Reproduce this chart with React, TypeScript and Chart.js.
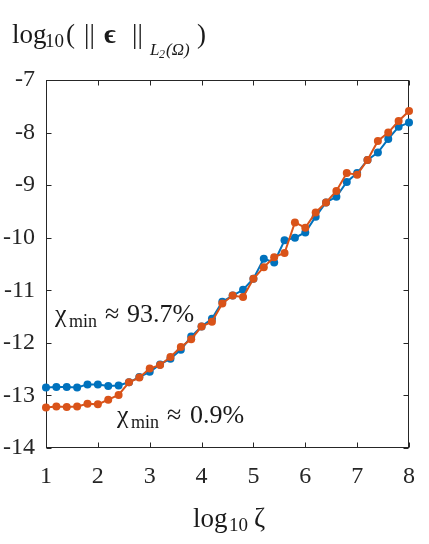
import React, { useEffect, useRef } from "react";
import { Chart, registerables } from "chart.js";

Chart.register(...registerables);

const xValues = [
  1.0, 1.2, 1.4, 1.6, 1.8, 2.0, 2.2, 2.4, 2.6, 2.8, 3.0, 3.2, 3.4, 3.6, 3.8, 4.0, 4.2, 4.4,
  4.6, 4.8, 5.0, 5.2, 5.4, 5.6, 5.8, 6.0, 6.2, 6.4, 6.6, 6.8, 7.0, 7.2, 7.4, 7.6, 7.8, 8.0,
];
const blueSeries = [
  -12.85, -12.84, -12.84, -12.85, -12.79, -12.79, -12.82, -12.81, -12.75, -12.65, -12.55, -12.41,
  -12.3, -12.13, -11.88, -11.69, -11.54, -11.22, -11.1, -10.99, -10.78, -10.4, -10.47, -10.05,
  -10.0, -9.9, -9.6, -9.33, -9.22, -8.94, -8.77, -8.52, -8.38, -8.12, -7.89, -7.81,
];
const orangeSeries = [
  -13.23, -13.21, -13.22, -13.21, -13.16, -13.17, -13.08, -12.99, -12.75, -12.66, -12.49, -12.42,
  -12.27, -12.08, -11.93, -11.69, -11.6, -11.25, -11.1, -11.13, -10.78, -10.56, -10.37, -10.29,
  -9.71, -9.81, -9.52, -9.33, -9.11, -8.77, -8.8, -8.52, -8.16, -8.0, -7.78, -7.59,
];
const xTicks = [1, 2, 3, 4, 5, 6, 7, 8];
const yTicks = [-14, -13, -12, -11, -10, -9, -8, -7];

const BLUE = "#0072BD";
const ORANGE = "#D95319";
const AXIS = "#262626";
const SERIF = "'Liberation Serif', 'DejaVu Serif', serif";

type Run = { t: string; x: number; y: number; size: number; style?: string };

function drawRuns(ctx: CanvasRenderingContext2D, runs: Run[]) {
  ctx.save();
  ctx.fillStyle = "#1a1a1a";
  ctx.textBaseline = "alphabetic";
  ctx.textAlign = "left";
  for (const r of runs) {
    ctx.font = `${r.style ? r.style + " " : ""}${r.size}px ${SERIF}`;
    ctx.fillText(r.t, r.x, r.y);
  }
  ctx.restore();
}

const framePlugin = {
  id: "frame",
  beforeDatasetsDraw(chart: any) {
    const { ctx, chartArea } = chart;
    const xs = chart.scales.x;
    const ys = chart.scales.y;
    const l = Math.round(chartArea.left) + 0.5;
    const r = Math.round(chartArea.right) - 0.5;
    const t = Math.round(chartArea.top) + 0.5;
    const b = Math.round(chartArea.bottom) - 0.5;
    ctx.save();
    ctx.strokeStyle = AXIS;
    ctx.lineWidth = 1;
    ctx.strokeRect(l, t, r - l, b - t);
    const len = 5;
    ctx.beginPath();
    for (const v of xTicks) {
      const p = Math.round(xs.getPixelForValue(v)) + 0.5;
      ctx.moveTo(p, b);
      ctx.lineTo(p, b - len);
      ctx.moveTo(p, t);
      ctx.lineTo(p, t + len);
    }
    for (const v of yTicks) {
      const p = Math.round(ys.getPixelForValue(v)) + 0.5;
      ctx.moveTo(l, p);
      ctx.lineTo(l + len, p);
      ctx.moveTo(r, p);
      ctx.lineTo(r - len, p);
    }
    ctx.stroke();
    ctx.restore();
  },
  afterDraw(chart: any) {
    const { ctx } = chart;
    // y-axis title
    drawRuns(ctx, [
      { t: "log", x: 12, y: 43, size: 27 },
      { t: "10", x: 45, y: 47, size: 19 },
      { t: "(", x: 66, y: 43, size: 27 },
      { t: "||", x: 84, y: 43, size: 27 },
      { t: "\u03F5", x: 104, y: 43, size: 28, style: "bold" },
      { t: "||", x: 132, y: 43, size: 27 },
      { t: "L", x: 150, y: 55, size: 17, style: "italic" },
      { t: "2", x: 159, y: 58, size: 12, style: "italic" },
      { t: "(\u03A9)", x: 166, y: 55, size: 17, style: "italic" },
      { t: ")", x: 197, y: 43, size: 27 },
    ]);
    // x-axis title
    drawRuns(ctx, [
      { t: "log", x: 193, y: 527, size: 27 },
      { t: "10", x: 229, y: 531, size: 19 },
      { t: "\u03B6", x: 254, y: 527, size: 27 },
    ]);
    // annotations
    drawRuns(ctx, [
      { t: "\u03C7", x: 55, y: 322, size: 26 },
      { t: "min", x: 69, y: 327, size: 18 },
      { t: "\u2248", x: 105, y: 322, size: 26 },
      { t: "93.7%", x: 127, y: 322, size: 26 },
      { t: "\u03C7", x: 117, y: 423, size: 26 },
      { t: "min", x: 131, y: 428, size: 18 },
      { t: "\u2248", x: 167, y: 423, size: 26 },
      { t: "0.9%", x: 190, y: 423, size: 26 },
    ]);
  },
};

export default function App() {
  const ref = useRef<HTMLCanvasElement | null>(null);
  useEffect(() => {
    if (!ref.current) return;
    const toPts = (ys: number[]) => xValues.map((x, i) => ({ x, y: ys[i] }));
    const chart = new Chart(ref.current, {
      type: "line",
      data: {
        datasets: [
          {
            label: "chi 93.7%",
            data: toPts(blueSeries),
            borderColor: BLUE,
            backgroundColor: BLUE,
            borderWidth: 2,
            pointRadius: 4,
            pointBorderWidth: 0,
            pointBackgroundColor: BLUE,
            clip: false as any,
            order: 1,
          },
          {
            label: "chi 0.9%",
            data: toPts(orangeSeries),
            borderColor: ORANGE,
            backgroundColor: ORANGE,
            borderWidth: 2,
            pointRadius: 4,
            pointBorderWidth: 0,
            pointBackgroundColor: ORANGE,
            clip: false as any,
            order: 0,
          },
        ],
      },
      options: {
        animation: false,
        responsive: false,
        devicePixelRatio: 1,
        layout: { padding: { top: 80, right: 14, left: 0, bottom: 0 } },
        plugins: { legend: { display: false }, tooltip: { enabled: false } },
        elements: { line: { tension: 0 } },
        scales: {
          x: {
            type: "linear",
            min: 1,
            max: 8,
            grid: { display: false, drawTicks: false },
            border: { display: false },
            ticks: {
              stepSize: 1,
              padding: 14,
              color: AXIS,
              font: { family: SERIF, size: 24 },
              callback: (v: any) => String(v),
            },
            afterFit: (s: any) => {
              s.height = 96;
            },
          },
          y: {
            type: "linear",
            min: -14,
            max: -7,
            grid: { display: false, drawTicks: false },
            border: { display: false },
            ticks: {
              stepSize: 1,
              padding: 11,
              color: AXIS,
              font: { family: SERIF, size: 24 },
              callback: (v: any) => String(v),
            },
            afterFit: (s: any) => {
              s.width = 46;
            },
          },
        },
      },
      plugins: [framePlugin],
    });
    return () => chart.destroy();
  }, []);
  return (
    <div style={{ position: "fixed", left: 0, top: 0, width: 429, height: 544, background: "#fff" }}>
      <canvas ref={ref} width={429} height={544} style={{ width: 429, height: 544 }} />
    </div>
  );
}
